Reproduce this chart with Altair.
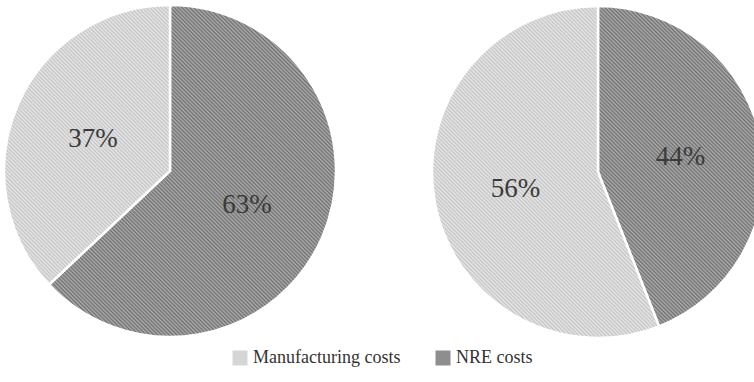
import math

import altair as alt
import pandas as pd

# Cost split for the two scenarios (percent of total)
categories = ["NRE costs", "Manufacturing costs"]
legend_order = ["Manufacturing costs", "NRE costs"]
pie_ids = ["left", "right"]
left_values = [63, 37]
right_values = [44, 56]

rows = []
for pid, vals in zip(pie_ids, [left_values, right_values]):
    for k, (cat, val) in enumerate(zip(categories, vals)):
        rows.append({"pie": pid, "category": cat, "value": val, "order": k})
df = pd.DataFrame(rows)

# Layout of the two pies
CENTERS = {"left": (170, 171), "right": (598, 172)}
RADIUS = 166
LABEL_RADIUS = 84
STRIPE_PERIOD = 2.7  # px, perpendicular distance between hatch lines

# Hatch colours (dark line, light line) and the flat tone used in the legend
STRIPES = {
    "NRE costs": ("#707070", "#adadad"),
    "Manufacturing costs": ("#c4c4c4", "#e8e8e8"),
}
FLAT = {"NRE costs": "#8e8e8e", "Manufacturing costs": "#d6d6d6"}


def wedge_box(frac0, frac1, r):
    """Width and height of a pie wedge's bounding box (clockwise from 12 o'clock)."""
    a0, a1 = frac0 * 2 * math.pi, frac1 * 2 * math.pi
    angles = [a0, a1] + [q * math.pi / 2 for q in range(5) if a0 < q * math.pi / 2 < a1]
    xs = [0.0] + [r * math.sin(a) for a in angles]
    ys = [0.0] + [-r * math.cos(a) for a in angles]
    return max(xs) - min(xs), max(ys) - min(ys)


def hatch(cat, frac0, frac1):
    """Linear gradient with repeating stops that reads as a 45-degree hatch."""
    w, h = wedge_box(frac0, frac1, RADIUS)
    s = (w + h) / (w * w + h * h)
    n = max(1, int(round((w + h) / (STRIPE_PERIOD * math.sqrt(2)))))
    dark, light = STRIPES[cat]
    stops = [
        {"offset": k / (2 * n), "color": dark if k % 2 == 0 else light}
        for k in range(2 * n + 1)
    ]
    return {
        "gradient": "linear",
        "x1": 0,
        "y1": 1,
        "x2": s * w,
        "y2": 1 - s * h,
        "stops": stops,
    }


theta_scale = alt.Scale(domain=[0, 100], range=[0, 2 * math.pi])

base = (
    alt.Chart(df)
    .transform_window(cum="sum(value)", groupby=["pie"], sort=[alt.SortField("order")])
    .transform_calculate(
        start="datum.cum - datum.value",
        mid="datum.cum - datum.value / 2",
        label="datum.value + '%'",
    )
)

layers = []
for pid, vals in zip(pie_ids, [left_values, right_values]):
    cx, cy = CENTERS[pid]
    total = float(sum(vals))
    acc = 0.0
    for cat, val in zip(categories, vals):
        grad = hatch(cat, acc / total, (acc + val) / total)
        acc += val
        layers.append(
            base.transform_filter(
                (alt.datum.pie == pid) & (alt.datum.category == cat)
            )
            .mark_arc(outerRadius=RADIUS, fill=grad, stroke="white", strokeWidth=2.5)
            .encode(
                theta=alt.Theta("start:Q", scale=theta_scale, stack=False),
                theta2="cum:Q",
                x=alt.value(cx),
                y=alt.value(cy),
            )
        )
    layers.append(
        base.transform_filter(alt.datum.pie == pid)
        .mark_text(
            radius=LABEL_RADIUS,
            font="Liberation Serif",
            fontSize=27,
            color="#3a3a3a",
            align="center",
            baseline="middle",
        )
        .encode(
            theta=alt.Theta("mid:Q", scale=theta_scale, stack=False),
            text="label:N",
            x=alt.value(cx),
            y=alt.value(cy + 1),
        )
    )

# Legend-only layer
legend_df = pd.DataFrame({"category": legend_order})
legend_layer = (
    alt.Chart(legend_df)
    .mark_square(size=0, opacity=0)
    .encode(
        color=alt.Color(
            "category:N",
            scale=alt.Scale(domain=legend_order, range=[FLAT[c] for c in legend_order]),
            legend=alt.Legend(
                title=None,
                orient="none",
                legendX=231,
                legendY=349,
                direction="horizontal",
                symbolType="square",
                symbolSize=225,
                symbolOpacity=1,
                symbolStrokeWidth=0,
                labelFont="Liberation Serif",
                labelFontSize=18,
                labelColor="#333333",
                labelLimit=300,
                labelOffset=4,
                columnPadding=33,
                padding=0,
            ),
        ),
        x=alt.value(-30),
        y=alt.value(-30),
    )
)

chart = (
    alt.layer(*layers, legend_layer)
    .properties(
        width=754,
        height=382,
        padding=0,
        autosize=alt.AutoSizeParams(type="none"),
        background="white",
    )
    .configure_view(strokeWidth=0)
)

chart.save("out.html", embed_options={"renderer": "svg", "actions": False})
